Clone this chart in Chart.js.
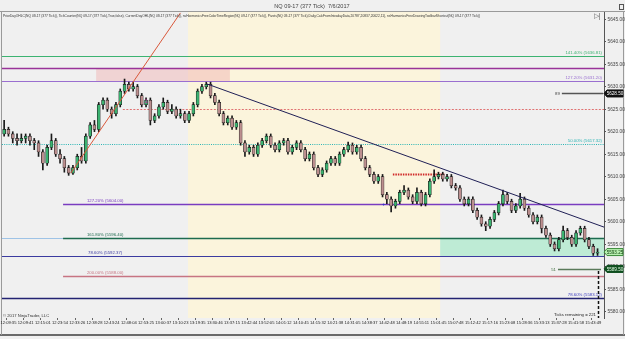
<!DOCTYPE html>
<html>
<head>
<meta charset="utf-8">
<script src="https://cdn.jsdelivr.net/npm/chart.js@4.4.0/dist/chart.umd.min.js"></script>
<style>
html, body { margin: 0; padding: 0; background: #f0f0f0; overflow: hidden; }
#wrap { width: 625px; height: 339px; }
</style>
</head>
<body>
<div id="wrap"><canvas id="priceChart" width="625" height="339"></canvas></div>
<script>
// NQ 09-17 (377 Tick) 7/6/2017 - du lieu doc tu hinh
const timeLabels = ['12:09:35','12:09:41','12:15:01','12:23:54','12:33:26','12:38:28','12:43:24','12:48:04','12:53:25',
  '13:00:37','13:10:23','13:19:35','13:30:46','13:37:15','13:42:44','13:52:05','14:01:12','14:10:45','14:15:32',
  '14:21:38','14:31:05','14:38:37','14:42:48','14:48:19','14:55:11','15:01:45','15:07:48','15:12:42','15:17:16',
  '15:23:08','15:28:36','15:33:13','15:37:28','15:41:58','15:43:49'];

const opens = [5619.5,5620.5,5619.5,5618.5,5618.0,5618.5,5619.0,5618.0,5617.5,5615.5,
  5613.0,5616.5,5618.0,5615.0,5614.0,5612.0,5610.8,5612.0,5614.5,5613.5,
  5619.0,5621.5,5620.5,5626.0,5627.0,5625.0,5624.0,5626.0,5629.0,5630.5,
  5629.5,5630.0,5628.0,5626.0,5627.0,5622.5,5623.5,5625.5,5626.5,5624.5,
  5625.0,5623.5,5624.0,5622.5,5624.0,5626.0,5629.0,5630.0,5630.5,5628.0,
  5626.5,5624.0,5622.0,5623.0,5621.0,5622.0,5617.5,5615.5,5616.5,5615.0,
  5617.0,5618.0,5619.0,5617.0,5616.0,5617.5,5618.0,5615.5,5616.5,5617.5,
  5616.0,5614.0,5615.0,5612.0,5610.5,5611.5,5613.0,5614.0,5613.0,5615.0,
  5616.0,5617.0,5615.5,5616.5,5614.0,5612.0,5610.5,5609.0,5610.0,5606.0,
  5605.0,5603.5,5604.5,5606.5,5607.0,5605.5,5604.5,5606.5,5604.0,5606.0,
  5609.0,5610.0,5610.5,5609.5,5610.0,5608.0,5607.5,5605.0,5604.0,5605.0,
  5602.5,5601.0,5599.5,5599.0,5600.5,5602.0,5604.0,5606.0,5604.5,5602.5,
  5603.5,5605.0,5603.0,5601.5,5600.0,5601.0,5598.5,5597.0,5595.0,5594.0,
  5596.0,5598.0,5596.5,5595.0,5597.5,5598.5,5596.0,5594.5,5593.0];
const highs = [5622.5,5621.0,5620.0,5619.5,5619.5,5619.5,5619.5,5618.5,5618.0,5616.0,
  5617.0,5619.5,5618.5,5616.0,5614.5,5612.5,5612.5,5615.0,5616.5,5619.5,
  5622.0,5622.5,5626.5,5627.5,5627.5,5625.5,5626.5,5629.5,5631.7,5631.0,
  5631.0,5630.5,5628.5,5627.5,5627.5,5624.0,5626.0,5627.5,5627.0,5626.0,
  5625.5,5625.0,5624.5,5624.5,5626.5,5629.5,5630.5,5631.0,5631.0,5628.5,
  5627.0,5624.5,5623.5,5623.5,5622.5,5622.5,5618.0,5617.0,5617.0,5617.5,
  5618.5,5619.5,5619.5,5617.5,5618.0,5618.5,5618.5,5617.0,5618.0,5618.0,
  5616.5,5615.5,5615.5,5612.5,5612.0,5613.5,5614.5,5614.5,5615.5,5616.5,
  5617.7,5617.5,5617.0,5617.0,5614.5,5612.5,5611.0,5610.5,5610.5,5606.5,
  5605.5,5605.0,5607.0,5608.0,5607.5,5606.0,5607.5,5607.0,5606.5,5609.5,
  5611.5,5611.0,5611.0,5610.5,5610.5,5608.5,5608.0,5605.5,5605.5,5605.5,
  5603.0,5601.5,5600.0,5601.0,5602.5,5604.5,5607.0,5606.5,5605.0,5604.0,
  5606.3,5605.5,5603.5,5602.0,5601.5,5601.5,5599.0,5597.5,5595.5,5596.5,
  5599.0,5598.5,5597.0,5598.0,5599.0,5599.0,5596.5,5595.0,5594.0];
const lows = [5619.0,5619.0,5617.5,5617.0,5617.5,5617.5,5617.0,5616.0,5614.5,5611.5,
  5612.5,5616.0,5614.5,5613.0,5611.0,5610.3,5610.5,5611.5,5613.0,5613.0,
  5618.5,5620.0,5620.0,5625.0,5624.5,5623.0,5623.5,5625.5,5628.5,5629.0,
  5629.0,5627.5,5625.5,5625.5,5621.5,5622.0,5623.0,5625.0,5624.0,5624.0,
  5623.0,5623.0,5622.0,5622.0,5623.5,5625.5,5628.5,5629.5,5627.5,5626.0,
  5623.5,5621.5,5621.5,5620.5,5620.5,5617.0,5614.5,5615.0,5614.5,5614.5,
  5616.5,5617.5,5616.5,5615.5,5615.5,5617.0,5615.0,5615.0,5616.0,5615.5,
  5613.5,5613.5,5611.5,5610.0,5610.0,5611.0,5612.5,5612.5,5612.5,5614.5,
  5615.5,5615.0,5615.0,5613.5,5611.5,5610.0,5608.5,5608.5,5605.5,5604.0,
  5602.2,5603.0,5604.0,5606.0,5605.0,5604.0,5604.0,5603.5,5603.5,5605.5,
  5608.5,5609.5,5609.0,5609.0,5607.5,5607.0,5604.5,5603.5,5603.5,5602.0,
  5600.5,5599.0,5598.0,5598.5,5600.0,5601.5,5603.5,5604.0,5602.0,5602.0,
  5603.0,5602.5,5601.0,5599.5,5599.5,5597.5,5596.5,5594.5,5593.5,5593.5,
  5595.5,5596.0,5594.5,5594.5,5597.0,5595.5,5594.0,5592.5,5592.5];
const closes = [5620.5,5619.5,5618.5,5618.0,5618.5,5619.0,5618.0,5617.5,5615.5,5613.0,
  5616.5,5618.0,5615.0,5614.0,5612.0,5610.8,5612.0,5614.5,5613.5,5619.0,
  5621.5,5620.5,5626.0,5627.0,5625.0,5624.0,5626.0,5629.0,5630.5,5629.5,
  5630.0,5628.0,5626.0,5627.0,5622.5,5623.5,5625.5,5626.5,5624.5,5625.0,
  5623.5,5624.0,5622.5,5624.0,5626.0,5629.0,5630.0,5630.5,5628.0,5626.5,
  5624.0,5622.0,5623.0,5621.0,5622.0,5617.5,5615.5,5616.5,5615.0,5617.0,
  5618.0,5619.0,5617.0,5616.0,5617.5,5618.0,5615.5,5616.5,5617.5,5616.0,
  5614.0,5615.0,5612.0,5610.5,5611.5,5613.0,5614.0,5613.0,5615.0,5616.0,
  5617.0,5615.5,5616.5,5614.0,5612.0,5610.5,5609.0,5610.0,5606.0,5605.0,
  5603.5,5604.5,5606.5,5607.0,5605.5,5604.5,5606.5,5604.0,5606.0,5609.0,
  5610.0,5610.5,5609.5,5610.0,5608.0,5607.5,5605.0,5604.0,5605.0,5602.5,
  5601.0,5599.5,5599.0,5600.5,5602.0,5604.0,5606.0,5604.5,5602.5,5603.5,
  5605.0,5603.0,5601.5,5600.0,5601.0,5598.5,5597.0,5595.0,5594.0,5596.0,
  5598.0,5596.5,5595.0,5597.5,5598.5,5596.0,5594.5,5593.0,5593.25];

// cac muc Fibonacci (gia) va nhan
const fibRatios = ['141.40%', '127.20%', '50.00%', '127.20%', '161.80%', '78.60%', '200.00%', '78.60%'];
const fibPrices = [5636.81, 5631.20, 5617.32, 5604.00, 5596.40, 5592.37, 5588.00, 5583.12];
// cac muc khac: pivot, prior close, vung gia
const pivotPrices = [5634.1, 5625.0, 5610.6];
const markerPrices = [5628.50, 5593.25, 5589.50];
const markerTags = ['89', '', '51'];
// duong xu huong: [chi so bar, gia]
const upTrend = [[15.5, 5610.8], [41.0, 5646.4]];
const downTrend = [[47.2, 5630.6], [139.5, 5598.8]];

const nBars = 140;
const labels = [];
for (let i = 0; i < nBars; i++) {
  labels.push((i - 1) % 4 === 0 ? timeLabels[(i - 1) / 4] || '' : '');
}

const FONT = 'Liberation Sans, Arial, sans-serif';
const upColor = '#3cb371';
const downColor = '#bc8f8f';

function hline(ctx, y, x0, x1, color, w, dash) {
  ctx.save();
  ctx.strokeStyle = color;
  ctx.lineWidth = w;
  ctx.setLineDash(dash || []);
  ctx.beginPath();
  ctx.moveTo(x0, y);
  ctx.lineTo(x1, y);
  ctx.stroke();
  ctx.restore();
}

function txt(ctx, s, x, y, color, size, align) {
  ctx.save();
  ctx.fillStyle = color;
  ctx.font = size + 'px ' + FONT;
  ctx.textAlign = align || 'left';
  ctx.textBaseline = 'middle';
  ctx.fillText(s, x, y);
  ctx.restore();
}

function axisBox(ctx, y, s, fill, stroke, color) {
  ctx.save();
  ctx.fillStyle = fill;
  ctx.strokeStyle = stroke;
  ctx.lineWidth = 1;
  ctx.beginPath();
  ctx.moveTo(604, y);
  ctx.lineTo(607, y - 3.5);
  ctx.lineTo(623, y - 3.5);
  ctx.lineTo(623, y + 3.5);
  ctx.lineTo(607, y + 3.5);
  ctx.closePath();
  ctx.fill();
  ctx.stroke();
  ctx.restore();
  txt(ctx, s, 615, y + 0.3, color, 4.6, 'center');
}

const overlay = {
  id: 'overlay',
  beforeDraw(chart) {
    const { ctx, chartArea: a, scales: { x: xs, y: ys } } = chart;
    // vung thoi gian mau kem
    ctx.save();
    ctx.fillStyle = '#fbf4dc';
    const c0 = xs.getPixelForValue(42.75), c1 = xs.getPixelForValue(101.4);
    ctx.fillRect(c0, a.top, c1 - c0, a.bottom - a.top);
    // vung hong va vung xanh
    ctx.fillStyle = 'rgba(240,175,175,0.45)';
    const p0 = xs.getPixelForValue(21.4), p1 = xs.getPixelForValue(52.5);
    ctx.fillRect(p0, ys.getPixelForValue(pivotPrices[0]), p1 - p0, ys.getPixelForValue(fibPrices[1]) - ys.getPixelForValue(pivotPrices[0]));
    ctx.fillStyle = 'rgba(140,230,185,0.5)';
    const gy0 = ys.getPixelForValue(fibPrices[4]), gy1 = ys.getPixelForValue(fibPrices[5]);
    ctx.fillRect(c1, gy0, a.right - c1, gy1 - gy0);
    ctx.restore();

    // khung
    hline(ctx, 11.5, 0, 625, '#9a9a9a', 1);
    hline(ctx, 335, 0, 625, '#6a6a6a', 2);
    ctx.save();
    ctx.strokeStyle = '#9a9a9a';
    ctx.beginPath();
    ctx.moveTo(1.5, 11); ctx.lineTo(1.5, 335);
    ctx.moveTo(623.5, 11); ctx.lineTo(623.5, 335);
    ctx.stroke();
    ctx.restore();
  },
  beforeDatasetsDraw(chart) {
    const { ctx, chartArea: a, scales: { x: xs, y: ys } } = chart;
    const Y = p => Math.round(ys.getPixelForValue(p)) + 0.5;
    const X = i => xs.getPixelForValue(i);
    const L = a.left, R = a.right;
    const mid = X(13.7);

    hline(ctx, Y(fibPrices[0]), L, R, '#3cb371', 1);
    hline(ctx, Y(pivotPrices[0]), L, R, '#993399', 1.6);
    hline(ctx, Y(fibPrices[1]), L, R, '#9a6fd0', 1);
    hline(ctx, Y(pivotPrices[1]), X(27.6), R, '#e07272', 1, [2, 1.5]);
    hline(ctx, Y(fibPrices[2]), L, R, '#2ab4b4', 1, [1, 1.2]);
    hline(ctx, Y(fibPrices[3]), mid, R, '#7a3cc0', 1.5);
    hline(ctx, Y(fibPrices[4]), L, mid, '#9ec3e6', 1.2);
    hline(ctx, Y(fibPrices[4]), mid, R, '#1d6b4f', 1.4);
    hline(ctx, Y(fibPrices[5]), L, R, '#3b3ba0', 1.2);
    hline(ctx, Y(fibPrices[6]), mid, R, '#c77482', 1.5);
    hline(ctx, Y(fibPrices[7]), L, R, '#232372', 1.5);
    hline(ctx, Y(pivotPrices[2]), X(90.4), X(102.5), '#d02828', 2, [1.5, 1]);

    // cac duong danh dau 89 / 51
    hline(ctx, Y(markerPrices[0]), X(129.7), R - 1, '#555', 1.6);
    hline(ctx, Y(markerPrices[2]), X(128.8), X(138.8), '#5a7a5a', 1.4);

    // nhan fib
    const fs = 4.3;
    txt(ctx, fibRatios[0] + ' (' + fibPrices[0].toFixed(2) + ')', R - 2, Y(fibPrices[0]) - 4, '#3cb371', fs, 'right');
    txt(ctx, fibRatios[1] + ' (' + fibPrices[1].toFixed(2) + ')', R - 2, Y(fibPrices[1]) - 4, '#9a6fd0', fs, 'right');
    txt(ctx, fibRatios[2] + ' (' + fibPrices[2].toFixed(2) + ')', R - 2, Y(fibPrices[2]) - 4, '#2ab4b4', fs, 'right');
    const lx = X(23.5);
    txt(ctx, fibRatios[3] + ' (' + fibPrices[3].toFixed(2) + ')', lx, Y(fibPrices[3]) - 4, '#7a3cc0', fs, 'center');
    txt(ctx, fibRatios[4] + ' (' + fibPrices[4].toFixed(2) + ')', lx, Y(fibPrices[4]) - 4, '#1d6b4f', fs, 'center');
    txt(ctx, fibRatios[5] + ' (' + fibPrices[5].toFixed(2) + ')', lx, Y(fibPrices[5]) - 4, '#3b3ba0', fs, 'center');
    txt(ctx, fibRatios[6] + ' (' + fibPrices[6].toFixed(2) + ')', lx, Y(fibPrices[6]) - 4, '#c77482', fs, 'center');
    txt(ctx, fibRatios[7] + ' (' + fibPrices[7].toFixed(2) + ')', R - 2, Y(fibPrices[7]) - 4, '#3b3bc0', fs, 'right');
    txt(ctx, markerTags[0], X(129.7) - 2, Y(markerPrices[0]), '#444', 4.3, 'right');
    txt(ctx, markerTags[2], X(128.8) - 2, Y(markerPrices[2]), '#3a6a3a', 4.3, 'right');
  },
  afterDatasetsDraw(chart) {
    const { ctx, chartArea: a, scales: { x: xs, y: ys } } = chart;
    ctx.save();
    ctx.beginPath();
    ctx.rect(a.left, a.top, a.right - a.left, a.bottom - a.top);
    ctx.clip();
    // duong xu huong
    ctx.lineWidth = 1;
    ctx.strokeStyle = '#d9583b';
    ctx.beginPath();
    ctx.moveTo(xs.getPixelForValue(upTrend[0][0]), ys.getPixelForValue(upTrend[0][1]));
    ctx.lineTo(xs.getPixelForValue(upTrend[1][0]), ys.getPixelForValue(upTrend[1][1]));
    ctx.stroke();
    ctx.strokeStyle = '#1f1f55';
    ctx.beginPath();
    ctx.moveTo(xs.getPixelForValue(downTrend[0][0]), ys.getPixelForValue(downTrend[0][1]));
    ctx.lineTo(xs.getPixelForValue(downTrend[1][0]), ys.getPixelForValue(downTrend[1][1]));
    ctx.stroke();
    // duong dem nguoc tick
    ctx.strokeStyle = '#111';
    ctx.lineWidth = 1.5;
    ctx.setLineDash([3, 2]);
    const vx = Math.round(xs.getPixelForValue(138.1)) + 0.5;
    ctx.beginPath();
    ctx.moveTo(vx, ys.getPixelForValue(markerPrices[2]) + 2);
    ctx.lineTo(vx, a.bottom);
    ctx.stroke();
    ctx.restore();

    txt(ctx, '1', xs.getPixelForValue(33), ys.getPixelForValue(5626.7), '#cc22aa', 5, 'center');
    txt(ctx, '+', xs.getPixelForValue(88.3), ys.getPixelForValue(5603.9), '#2233cc', 6, 'center');
  },
  afterDraw(chart) {
    const { ctx, scales: { y: ys } } = chart;
    txt(ctx, 'NQ 09-17 (377 Tick)  7/6/2017', 312, 6, '#444', 5.6, 'center');
    ctx.save();
    ctx.fillStyle = '#333';
    ctx.font = '3.9px ' + FONT;
    ctx.textBaseline = 'middle';
    ctx.fillText('PriorDayOHLC(NQ 09-17 (377 Tick)), TickCounter(NQ 09-17 (377 Tick),True,false), CurrentDayOHL(NQ 09-17 (377 Tick)), nsHarmonicsFreeColorTimeRegion(NQ 09-17 (377 Tick)), Pivots(NQ 09-17 (377 Tick),Daily,CalcFromIntradayData,20787,20837,20622,11), nsHarmonicsFreeDrawingToolbarShortcut(NQ 09-17 (377 Tick))', 3, 15.5, 477);
    ctx.restore();
    txt(ctx, '\u25B7|', 597, 16.5, '#555', 6.5, 'center');
    ctx.save();
    ctx.strokeStyle = '#555';
    ctx.strokeRect(619.5, 4.5, 4, 5);
    ctx.restore();
    txt(ctx, '\u00A9 2017 NinjaTrader, LLC', 3, 316, '#333', 4.2, 'left');
    txt(ctx, 'Ticks remaining = 221', 596, 315, '#222', 4.3, 'right');

    axisBox(ctx, ys.getPixelForValue(markerPrices[0]), markerPrices[0].toFixed(2), '#111', '#111', '#fff');
    axisBox(ctx, ys.getPixelForValue(markerPrices[1]), markerPrices[1].toFixed(2), '#b8f0b0', '#3a8a3a', '#114411');
    axisBox(ctx, ys.getPixelForValue(markerPrices[2]), markerPrices[2].toFixed(2), '#0f4f1f', '#0f4f1f', '#e8ffe8');
  }
};

const bodyColors = opens.map((o, i) => (closes[i] >= o ? upColor : downColor));

new Chart(document.getElementById('priceChart').getContext('2d'), {
  type: 'bar',
  data: {
    labels: labels,
    datasets: [
      {
        label: 'body',
        data: opens.map((o, i) => [o, closes[i]]),
        backgroundColor: bodyColors,
        borderColor: '#1a1a1a',
        borderWidth: 0.6,
        borderSkipped: false,
        barThickness: 3,
        grouped: false,
        order: 1
      },
      {
        label: 'wick',
        data: lows.map((l, i) => [l, highs[i]]),
        backgroundColor: '#1a1a1a',
        barThickness: 1,
        grouped: false,
        order: 2
      }
    ]
  },
  options: {
    responsive: false,
    animation: false,
    layout: { padding: { top: 12, left: 2, right: 0, bottom: 5 } },
    plugins: { legend: { display: false }, tooltip: { enabled: false }, title: { display: false } },
    scales: {
      x: {
        type: 'category',
        offset: true,
        border: { display: false },
        grid: {
          drawOnChartArea: false,
          drawTicks: true,
          tickLength: 2,
          color: c => (c.tick && c.tick.label ? '#666' : 'rgba(0,0,0,0)')
        },
        ticks: { autoSkip: false, maxRotation: 0, minRotation: 0, padding: 0.5, color: '#222', font: { size: 4.1, family: FONT } },
        afterFit: s => { s.height = 16; }
      },
      y: {
        position: 'right',
        min: 5578.6,
        max: 5646.6,
        border: { display: true, color: '#555' },
        grid: { drawOnChartArea: false, tickLength: 2, color: '#555' },
        ticks: {
          stepSize: 5,
          includeBounds: false,
          padding: 1.5,
          color: '#444',
          font: { size: 4.8, family: FONT },
          callback: v => Number(v).toFixed(2)
        },
        afterFit: s => { s.width = 21; }
      }
    }
  },
  plugins: [overlay]
});
</script>
</body>
</html>
